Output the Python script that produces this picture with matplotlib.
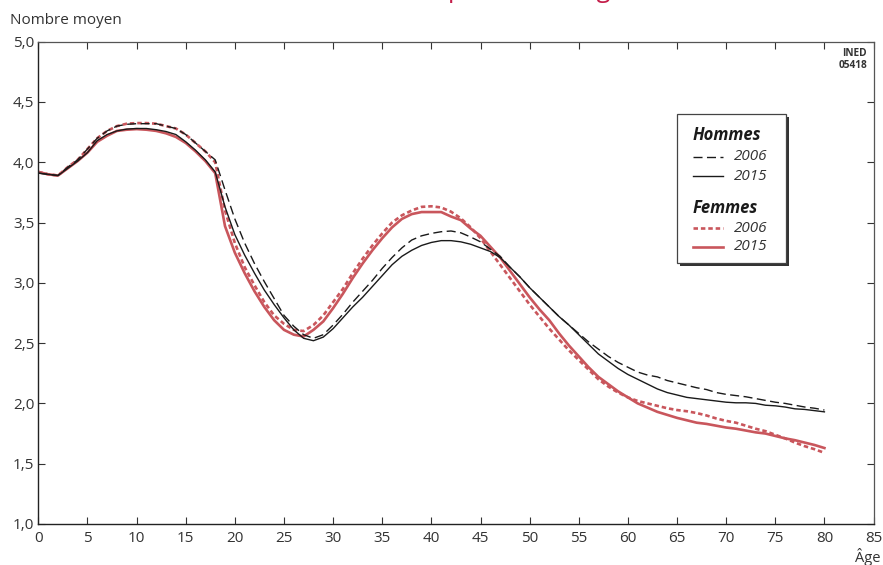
import numpy as np
import matplotlib.pyplot as plt
from matplotlib.lines import Line2D
from matplotlib.patches import Rectangle

ages = list(range(0, 81))

hommes_2006 = [3.91, 3.90, 3.89, 3.96, 4.02, 4.11, 4.20, 4.26, 4.30, 4.315,
               4.32, 4.32, 4.32, 4.30, 4.28, 4.23, 4.16, 4.09, 4.02, 3.77,
               3.53, 3.33, 3.16, 3.01, 2.87, 2.73, 2.64, 2.57, 2.54, 2.57,
               2.65, 2.74, 2.84, 2.93, 3.02, 3.12, 3.21, 3.29, 3.355, 3.39,
               3.41, 3.424, 3.43, 3.415, 3.38, 3.34, 3.28, 3.22, 3.13, 3.05,
               2.96, 2.88, 2.80, 2.72, 2.65, 2.58, 2.51, 2.45, 2.39, 2.34,
               2.30, 2.26, 2.235, 2.22, 2.19, 2.17, 2.15, 2.13, 2.115, 2.09,
               2.075, 2.065, 2.055, 2.04, 2.025, 2.01, 2.00, 1.985, 1.97, 1.96,
               1.945]

hommes_2015 = [3.91, 3.90, 3.89, 3.95, 4.01, 4.08, 4.18, 4.23, 4.26, 4.275,
               4.28, 4.28, 4.27, 4.255, 4.23, 4.17, 4.10, 4.02, 3.92, 3.63,
               3.40, 3.23, 3.08, 2.94, 2.82, 2.71, 2.61, 2.54, 2.52, 2.55,
               2.62, 2.71, 2.80, 2.88, 2.97, 3.06, 3.15, 3.22, 3.27, 3.31,
               3.335, 3.35, 3.35, 3.34, 3.32, 3.29, 3.26, 3.21, 3.13, 3.05,
               2.96, 2.88, 2.80, 2.72, 2.65, 2.57, 2.49, 2.41, 2.35, 2.29,
               2.24, 2.20, 2.16, 2.12, 2.09, 2.07, 2.05, 2.04, 2.03, 2.02,
               2.01, 2.005, 2.005, 2.00, 1.985, 1.98, 1.97, 1.955, 1.95, 1.94,
               1.93]

femmes_2006 = [3.92, 3.90, 3.89, 3.96, 4.02, 4.11, 4.20, 4.26, 4.30, 4.32,
               4.325, 4.325, 4.32, 4.30, 4.28, 4.23, 4.16, 4.09, 4.00, 3.60,
               3.33, 3.13, 2.98, 2.84, 2.73, 2.66, 2.61, 2.60, 2.65, 2.73,
               2.84, 2.95, 3.08, 3.20, 3.31, 3.41, 3.50, 3.56, 3.60, 3.63,
               3.635, 3.625, 3.59, 3.535, 3.46, 3.37, 3.26, 3.15, 3.04, 2.93,
               2.82, 2.72, 2.62, 2.53, 2.44, 2.36, 2.28, 2.20, 2.14, 2.09,
               2.05, 2.02, 2.00, 1.98, 1.96, 1.945, 1.935, 1.92, 1.90, 1.875,
               1.855, 1.84, 1.815, 1.79, 1.77, 1.74, 1.71, 1.675, 1.645, 1.62,
               1.59]

femmes_2015 = [3.92, 3.90, 3.89, 3.95, 4.01, 4.08, 4.17, 4.22, 4.26, 4.27,
               4.275, 4.27, 4.26, 4.24, 4.21, 4.16, 4.09, 4.01, 3.91, 3.47,
               3.25, 3.08, 2.93, 2.80, 2.69, 2.61, 2.57, 2.555, 2.61, 2.68,
               2.79, 2.91, 3.04, 3.16, 3.27, 3.37, 3.46, 3.53, 3.57, 3.587,
               3.587, 3.587, 3.55, 3.52, 3.45, 3.39, 3.30, 3.21, 3.10, 2.99,
               2.88, 2.78, 2.69, 2.58, 2.48, 2.39, 2.30, 2.22, 2.16, 2.10,
               2.05, 2.00, 1.965, 1.93, 1.905, 1.88, 1.86, 1.84, 1.83, 1.815,
               1.80, 1.79, 1.775, 1.76, 1.75, 1.73, 1.71, 1.695, 1.675, 1.655,
               1.63]

x_ticks = list(range(0, 90, 5))
y_ticks = [1.0, 1.5, 2.0, 2.5, 3.0, 3.5, 4.0, 4.5, 5.0]
y_labels = ["1,0", "1,5", "2,0", "2,5", "3,0", "3,5", "4,0", "4,5", "5,0"]

RED = '#c9565c'
BLACK = '#1a1a1a'
TXT = '#333333'

plt.rcParams['font.family'] = ['Open Sans', 'DejaVu Sans']

fig = plt.figure(figsize=(8.83, 5.65), dpi=100)
ax = fig.add_axes([0.0434, 0.0726, 0.9459, 0.8536])

ax.plot(ages, femmes_2006, color=RED, lw=1.9, dashes=(1.7, 1.1))
ax.plot(ages, femmes_2015, color=RED, lw=1.9)
ax.plot(ages, hommes_2006, color=BLACK, lw=1.0, dashes=(6.5, 3.2))
ax.plot(ages, hommes_2015, color=BLACK, lw=1.0)

ax.set_xlim(0, 85)
ax.set_ylim(1, 5)
ax.set_xticks(x_ticks)
ax.set_xticklabels([str(t) for t in x_ticks])
ax.set_yticks(y_ticks)
ax.set_yticklabels(y_labels)
ax.tick_params(direction='in', length=5, width=0.8, color='#333333',
               labelcolor=TXT, labelsize=11, top=True, right=True)
ax.tick_params(axis='x', pad=5)
ax.tick_params(axis='y', pad=3)
for side in ['left', 'bottom']:
    ax.spines[side].set_color('#222222')
    ax.spines[side].set_linewidth(1.0)
for side in ['top', 'right']:
    ax.spines[side].set_color('#555555')
    ax.spines[side].set_linewidth(0.9)

fig.text(10 / 883, 1 - 20 / 565, "Nombre moyen", fontsize=11, color=TXT,
         ha='left', va='center')
fig.text(868 / 883, 1 - 557 / 565, "Âge", fontsize=10.5, color=TXT,
         ha='center', va='center')
fig.text(867 / 883, 1 - 59.5 / 565, "INED\n05418", fontsize=7.3, color=TXT,
         ha='right', va='center', fontweight='bold', linespacing=1.15,
         fontstretch='condensed')

# titre coupé en haut de l'image
fig.text(624 / 883, 1 + 2.7 / 565, "en 2006 et 2015, par sexe et âge",
         fontsize=18, color='#c41e4a', ha='right', va='baseline')

# légende dessinée à la main
L, R, T, B = 677 / 883, 786 / 883, 1 - 114 / 565, 1 - 263 / 565
fig.add_artist(Rectangle((L + 3 / 883, B - 3 / 565), R - L, T - B,
                         transform=fig.transFigure, facecolor='#333333',
                         edgecolor='none', zorder=5))
fig.add_artist(Rectangle((L, B), R - L, T - B, transform=fig.transFigure,
                         facecolor='white', edgecolor='#444444', lw=0.9,
                         zorder=6))

x0, x1, xt = 693 / 883, 723 / 883, 734 / 883
fig.text(x0, 1 - 135 / 565, "Hommes", fontsize=12, fontweight='bold',
         style='italic', color=BLACK, va='center', zorder=7)
fig.text(x0, 1 - 208 / 565, "Femmes", fontsize=12, fontweight='bold',
         style='italic', color=BLACK, va='center', zorder=7)

entries = [(157, BLACK, 1.0, (6.5, 3.2), "2006"),
           (176, BLACK, 1.0, None, "2015"),
           (228, RED, 1.9, (1.7, 1.1), "2006"),
           (247, RED, 1.9, None, "2015")]
for yy, col, lw, dash, lab in entries:
    yf = 1 - yy / 565
    ln = Line2D([x0, x1], [yf, yf], transform=fig.transFigure, color=col,
                lw=lw, zorder=7)
    if dash:
        ln.set_dashes(dash)
    fig.add_artist(ln)
    fig.text(xt, yf, lab, fontsize=11, style='italic', color=TXT,
             va='center', zorder=7)

fig.savefig('out.png', dpi=100)
